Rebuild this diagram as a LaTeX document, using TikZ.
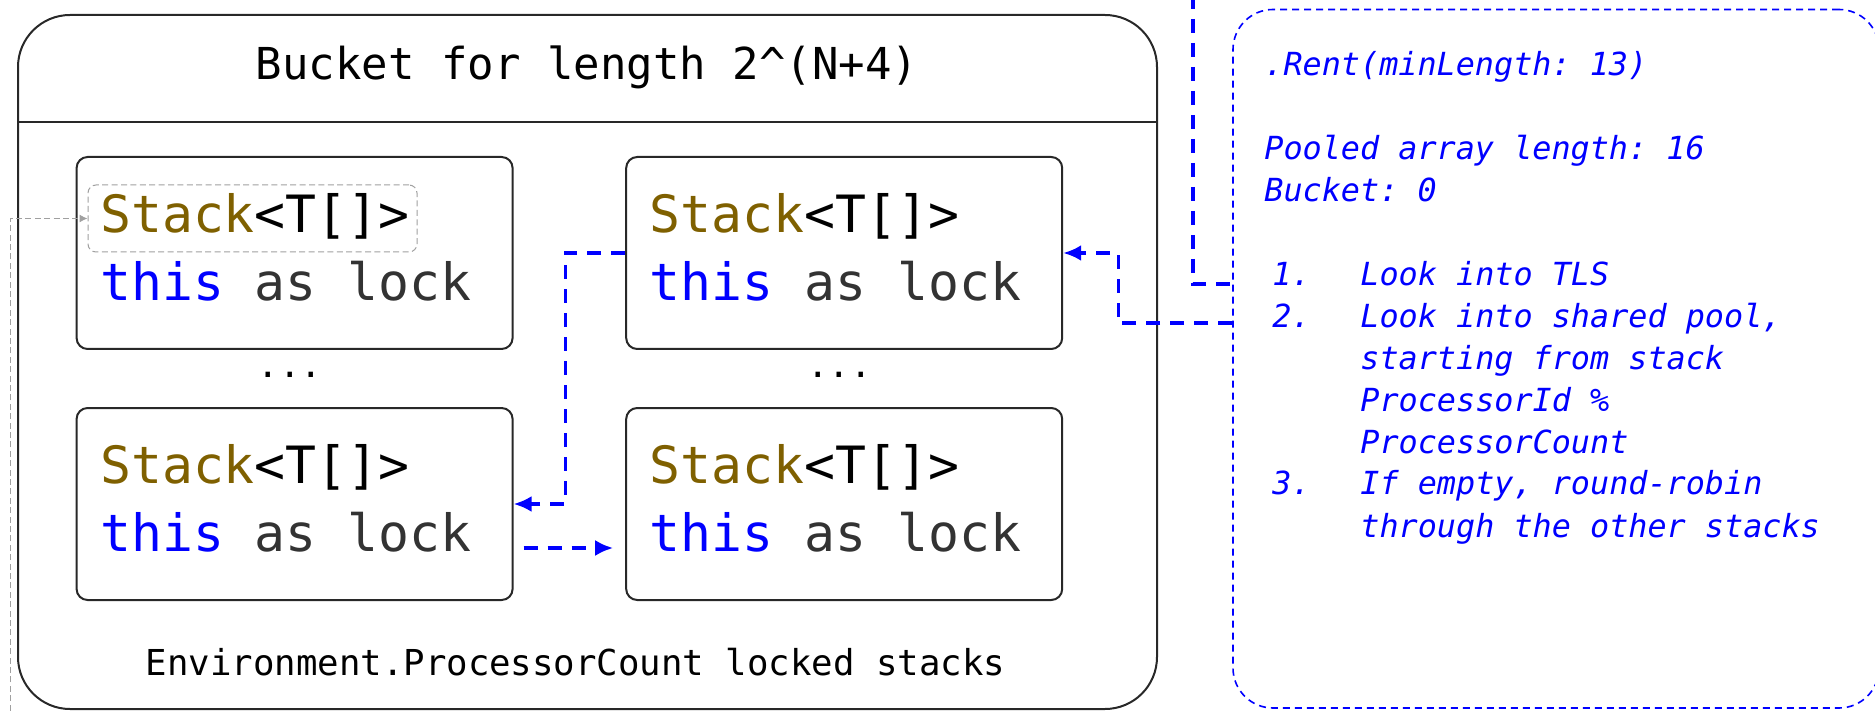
\documentclass[tikz,border=0pt]{standalone}
\usepackage{fontspec}
\setmainfont{DejaVu Sans}
\setmonofont{DejaVu Sans Mono}
\usetikzlibrary{arrows.meta, positioning, calc}
\definecolor{PoolBlue}{RGB}{0, 0, 255}
\definecolor{TypeBrown}{RGB}{127, 96, 0}
\definecolor{LockGray}{RGB}{51, 51, 51}
\definecolor{FrameGray}{RGB}{40, 40, 40}
\definecolor{HintGray}{RGB}{160, 160, 160}

\newcommand{\stackentry}{\spaceskip=0pt\relax\textcolor{TypeBrown}{Stack}<T[]>\\\textcolor{PoolBlue}{this} \textcolor{LockGray}{as lock}\rule[-6pt]{0pt}{0pt}}
\newcommand{\rentstep}[2]{\hspace*{4pt}\makebox[44pt][l]{#1}#2}

\begin{document}
\begin{tikzpicture}[x=0.5pt, y=-0.5pt,
    framepen/.style={draw=FrameGray, line width=1pt},
    bucketbox/.style={framepen, rounded corners=26pt, minimum width=569.5pt, minimum height=347pt, inner sep=0pt},
    stackbox/.style={framepen, rounded corners=5.5pt, minimum width=218pt, minimum height=96pt, inner xsep=11.8pt, inner ysep=0pt, text width=194.4pt, align=left, font=\ttfamily\fontsize{25.7pt}{34pt}\selectfont},
    rentpanel/.style={draw=PoolBlue, line width=0.8pt, dash pattern=on 3.5pt off 2.5pt, rounded corners=20pt, minimum width=323pt, minimum height=349.25pt, inner sep=0pt},
    steal/.style={draw=PoolBlue, line width=1.7pt, dash pattern=on 7pt off 5pt, -{Latex[length=9pt, width=8pt]}},
    hint/.style={draw=HintGray, line width=0.5pt, dash pattern=on 3pt off 1.7pt, -{Latex[length=4pt, width=4pt]}}
  ]
    \useasboundingbox (0,0) rectangle (1875,711);

    % bucket frame
    \node[bucketbox] (bucket) at (587.5,362) {};
    \draw[framepen] (bucket.west |- 0,121.7) -- (bucket.east |- 0,121.7);
    \node[anchor=base, font=\ttfamily\fontsize{22pt}{26pt}\selectfont] (bucketname) at (587,80) {Bucket for length 2\textasciicircum(N+4)};

    % locked stacks
    \node[stackbox] (tl) at (294.6,253) {\stackentry};
    \node[stackbox] (tr) at (844.2,253) {\stackentry};
    \node[stackbox] (bl) at (294.6,504) {\stackentry};
    \node[stackbox] (br) at (844.2,504) {\stackentry};
    \node[font=\ttfamily\fontsize{17.85pt}{21pt}\selectfont] (ldots) at (290,375) {...};
    \node[font=\ttfamily\fontsize{17.85pt}{21pt}\selectfont] (rdots) at (839.5,375) {...};
    \node[anchor=base, font=\ttfamily\fontsize{17.85pt}{21pt}\selectfont] (stackcount) at (575.5,675) {Environment.ProcessorCount locked stacks};

    % TLS slot
    \node[draw=HintGray, line width=0.5pt, dash pattern=on 3pt off 1.7pt, rounded corners=4pt, minimum width=164.5pt, minimum height=33.5pt] (tlstack) at (252.5,218.5) {};
    \coordinate (tlsfeed) at (10,720);
    \draw[hint] (tlsfeed) |- (tlstack.west);

    % Rent notes
    \node[rentpanel] (rent) at (1556,358.75) {};
    \node[anchor=base west, align=left, text=PoolBlue, inner sep=0pt, font=\ttfamily\itshape\fontsize{15.9pt}{21pt}\selectfont] (renttext) at (1264,537) {%
      .Rent(minLength: 13)\\[21pt]
      Pooled array length: 16\\
      Bucket: 0\\[21pt]
      \rentstep{1.}{Look into TLS}\\
      \rentstep{2.}{Look into shared pool,}\\
      \hspace*{48pt}starting from stack\\
      \hspace*{48pt}ProcessorId \%\\
      \hspace*{48pt}ProcessorCount\\
      \rentstep{3.}{If empty, round-robin}\\
      \hspace*{48pt}through the other stacks};

    % lookups
    \coordinate (tlsline) at (1193,-5);
    \draw[steal, -] (tlsline) |- (rent.west |- 0,284);
    \coordinate (sharedin) at (rent.west |- 0,323);
    \draw[steal] (sharedin) -- ++(-114,0) |- (tr.east);
    \draw[steal] (tr.west) -- ++(-59.7,0) |- (bl.east);
    \draw[steal, shorten <=5pt, shorten >=6pt] ([yshift=-22pt]bl.east) -- ([yshift=-22pt]br.west);
  \end{tikzpicture}
\end{document}
